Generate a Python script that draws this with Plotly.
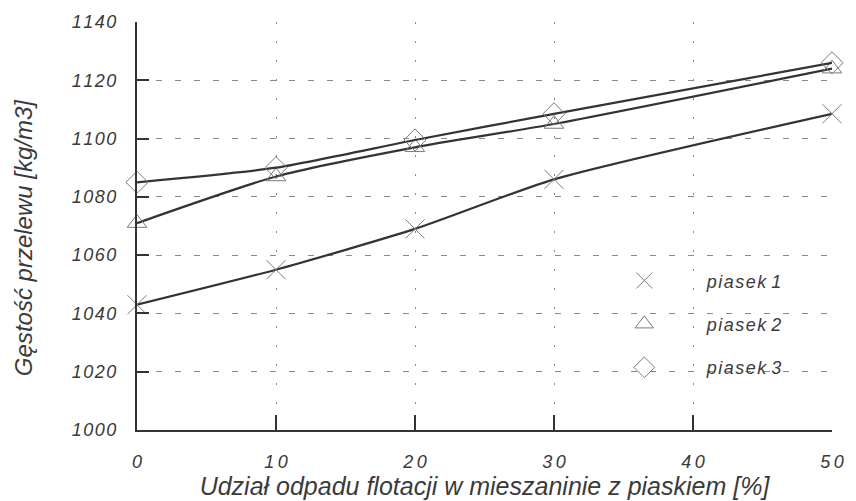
import plotly.graph_objects as go

x_vals = [0, 10, 20, 30, 50]
piasek1 = [1043, 1055, 1069, 1086, 1108.5]
piasek2 = [1071, 1087, 1097, 1105, 1124]
piasek3 = [1085, 1090, 1099.5, 1108.5, 1126]
series_names = ["piasek 1", "piasek 2", "piasek 3"]
symbols = ["x-thin-open", "triangle-up-open", "diamond-open"]

x_ticks = [0, 10, 20, 30, 40, 50]
y_ticks = [1000, 1020, 1040, 1060, 1080, 1100, 1120, 1140]

def spaced(s, sp="\u200a"):
    return sp.join(list(str(s)))

FONT = "Liberation Sans, Arial, sans-serif"
TXT = "#3a3a3a"
fig = go.Figure()
for i, (name, ys, sym) in enumerate(zip(series_names, [piasek1, piasek2, piasek3], symbols)):
    fig.add_trace(go.Scatter(
        x=x_vals, y=ys, mode="lines", line=dict(color="#333333", width=2.2, shape="spline", smoothing=0.6),
        showlegend=False, hoverinfo="skip"))
    fig.add_trace(go.Scatter(
        x=x_vals, y=ys, mode="markers", name=spaced(name).replace("\u200a \u200a", " "),
        legendgroup="g%d" % i,
        marker=dict(symbol=sym, size=19 if i == 0 else 17, color="#7a7a7a",
                    line=dict(width=1, color="#7a7a7a")),
        cliponaxis=False))

fig.update_layout(
    width=856, height=501,
    margin=dict(l=137, r=13, t=20, b=68),
    paper_bgcolor="white", plot_bgcolor="white",
    font=dict(family=FONT, color=TXT),
    showlegend=True,
    legend=dict(x=0.640, y=0.411, xanchor="left", yanchor="top", bgcolor="rgba(0,0,0,0)",
                font=dict(size=18, style="italic", color=TXT), itemsizing="trace",
                itemwidth=115, tracegroupgap=17, traceorder="grouped"),
    xaxis=dict(range=[0, 50], tickvals=x_ticks, ticktext=[spaced(v, "\u2009") for v in x_ticks],
               showline=True, linecolor="#333333", linewidth=2,
               ticks="inside", ticklen=15, tickwidth=2, tickcolor="#333333",
               showgrid=True, gridcolor="#8a8a8a", gridwidth=1, griddash="2px,17px",
               zeroline=False, ticklabelstandoff=14,
               tickfont=dict(size=18, style="italic", color=TXT),
               title=dict(text="Udział odpadu flotacji w mieszaninie z piaskiem [%]",
                          font=dict(size=25, style="italic", color=TXT), standoff=0)),
    yaxis=dict(range=[1000, 1140], tickvals=y_ticks, ticktext=[spaced(v) for v in y_ticks],
               showline=True, linecolor="#333333", linewidth=2,
               ticks="inside", ticklen=12, tickwidth=2, tickcolor="#333333",
               showgrid=True, gridcolor="#8a8a8a", gridwidth=1, griddash="6px,13px",
               zeroline=False, ticklabelstandoff=15,
               tickfont=dict(size=18, style="italic", color=TXT)),
    annotations=[dict(text="Gęstość przelewu [kg/m3]", textangle=-90, showarrow=False,
                      xref="paper", yref="paper", x=-0.163, y=0.472,
                      xanchor="center", yanchor="middle",
                      font=dict(size=24, style="italic", color=TXT, family=FONT))],
)
fig.write_html("out.html")
